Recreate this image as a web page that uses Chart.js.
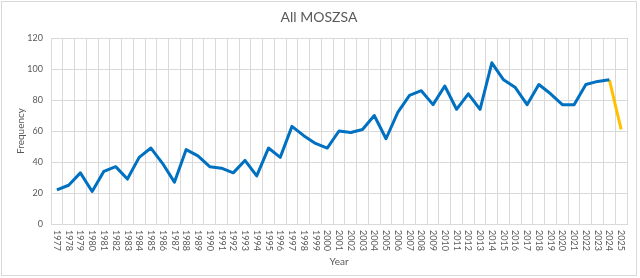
<!DOCTYPE html>
<html>
<head>
<meta charset="utf-8">
<script src="https://cdn.jsdelivr.net/npm/chart.js@4.4.0/dist/chart.umd.min.js"></script>
<style>
  html, body { margin: 0; padding: 0; background: #fff; }
  #wrap { width: 640px; height: 278px; }
</style>
</head>
<body>
<div id="wrap"><canvas id="chart" width="640" height="278"></canvas></div>
<script>
// data
const years = [
    '1977', '1978', '1979', '1980', '1981', '1982', '1983', '1984', '1985', '1986',
    '1987', '1988', '1989', '1990', '1991', '1992', '1993', '1994', '1995', '1996',
    '1997', '1998', '1999', '2000', '2001', '2002', '2003', '2004', '2005', '2006',
    '2007', '2008', '2009', '2010', '2011', '2012', '2013', '2014', '2015', '2016',
    '2017', '2018', '2019', '2020', '2021', '2022', '2023', '2024', '2025'
];
// 1977 .. 2024
const frequencyAll = [
    22, 25, 33, 21, 34, 37, 29, 43, 49, 39,
    27, 48, 44, 37, 36, 33, 41, 31, 49, 43,
    63, 57, 52, 49, 60, 59, 61, 70, 55, 72,
    83, 86, 77, 89, 74, 84, 74, 104, 93, 88,
    77, 90, 84, 77, 77, 90, 92, 93
];
// 2024 .. 2025 (partial year)
const latestYears = ['2024', '2025'];
const frequencyLatest = [93, 61];
const yTicks = [0, 20, 40, 60, 80, 100, 120];

const textColor = '#595959';
const gridColor = '#d9d9d9';
const fontFamily = 'Lato, "Open Sans", sans-serif';

const latestSeries = years.map(y => {
    const i = latestYears.indexOf(y);
    return i >= 0 ? frequencyLatest[i] : null;
});

// title, axis titles, rotated year labels and the outer frame
const decorPlugin = {
    id: 'decor',
    afterDraw(chart) {
        const ctx = chart.ctx;
        const area = chart.chartArea;
        const xScale = chart.scales.x;
        ctx.save();

        ctx.strokeStyle = gridColor;
        ctx.lineWidth = 1;
        ctx.strokeRect(1.5, 1.5, 635, 274);

        ctx.fillStyle = textColor;
        ctx.textAlign = 'center';
        ctx.textBaseline = 'middle';
        ctx.font = '14px ' + fontFamily;
        ctx.fillText('All MOSZSA', 319, 17);

        ctx.font = '10px ' + fontFamily;
        ctx.fillText('Year', (area.left + area.right) / 2, 262);

        ctx.save();
        ctx.translate(21, (area.top + area.bottom) / 2);
        ctx.rotate(-Math.PI / 2);
        ctx.fillText('Frequency', 0, 0);
        ctx.restore();

        ctx.font = '9px ' + fontFamily;
        ctx.textAlign = 'left';
        years.forEach((label, i) => {
            const x = xScale.getPixelForValue(i);
            ctx.save();
            ctx.translate(x, area.bottom + 6);
            ctx.rotate(Math.PI / 2);
            ctx.fillText(label, 0, 0);
            ctx.restore();
        });
        ctx.restore();
    }
};

new Chart(document.getElementById('chart'), {
    type: 'line',
    data: {
        labels: years,
        datasets: [
            {
                label: 'All',
                data: frequencyAll,
                borderColor: '#0070c0',
                borderWidth: 3,
                pointRadius: 0,
                tension: 0,
                borderJoinStyle: 'round'
            },
            {
                label: '2025',
                data: latestSeries,
                borderColor: '#ffc000',
                borderWidth: 3,
                pointRadius: 0,
                tension: 0,
                spanGaps: false
            }
        ]
    },
    options: {
        responsive: false,
        animation: false,
        layout: { padding: { top: 38, right: 13, bottom: 0, left: 0 } },
        plugins: {
            legend: { display: false },
            title: { display: false },
            tooltip: { enabled: false }
        },
        scales: {
            x: {
                type: 'category',
                offset: true,
                grid: { offset: true, color: gridColor, drawTicks: false },
                border: { color: gridColor },
                ticks: { display: false },
                afterFit(scale) { scale.height = 54; }
            },
            y: {
                min: 0,
                max: 120,
                afterBuildTicks(scale) { scale.ticks = yTicks.map(v => ({ value: v })); },
                grid: { color: gridColor, drawTicks: false },
                border: { color: gridColor },
                ticks: {
                    color: textColor,
                    padding: 8,
                    font: { family: fontFamily, size: 9 }
                },
                afterFit(scale) { scale.width = 51; }
            }
        }
    },
    plugins: [decorPlugin]
});
</script>
</body>
</html>
